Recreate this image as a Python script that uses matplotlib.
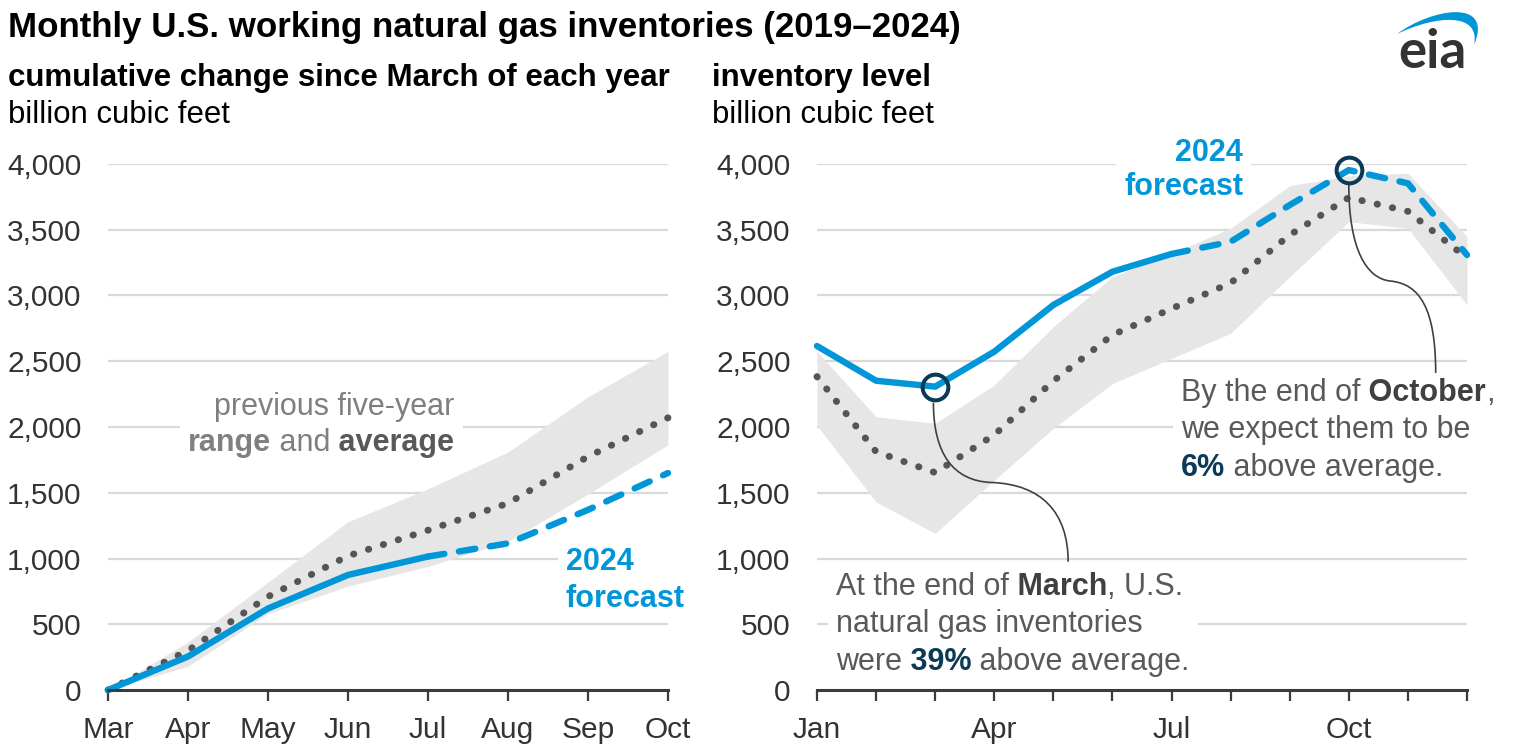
import matplotlib
matplotlib.use("Agg")
import matplotlib.pyplot as plt
import matplotlib.transforms as mtransforms
from matplotlib.offsetbox import TextArea, HPacker, VPacker, AnnotationBbox
from matplotlib.path import Path
from matplotlib.patches import PathPatch

plt.rcParams["font.family"] = ["Liberation Sans", "DejaVu Sans"]

# ---------------- data ----------------
y_ticks = [0, 500, 1000, 1500, 2000, 2500, 3000, 3500, 4000]
y_tick_labels = ["0", "500", "1,000", "1,500", "2,000", "2,500", "3,000", "3,500", "4,000"]

cum_months = ["Mar", "Apr", "May", "Jun", "Jul", "Aug", "Sep", "Oct"]
cum_2024_actual = [0, 255, 620, 875, 1015]            # Mar-Jul
cum_2024_forecast = [1015, 1115, 1370, 1650]          # Jul-Oct
cum_avg = [0, 300, 710, 1020, 1215, 1420, 1775, 2070]
cum_min = [0, 180, 580, 790, 940, 1130, 1490, 1865]
cum_max = [0, 365, 820, 1280, 1530, 1810, 2230, 2575]

inv_months = ["Jan", "Feb", "Mar", "Apr", "May", "Jun", "Jul", "Aug", "Sep", "Oct", "Nov", "Dec"]
inv_tick_labels = ["Jan", "", "", "Apr", "", "", "Jul", "", "", "Oct", "", ""]
inv_2024_actual = [2616, 2352, 2307, 2573, 2928, 3181, 3316]      # Jan-Jul
inv_2024_forecast = [3316, 3409, 3688, 3954, 3853, 3308]          # Jul-Dec
inv_avg = [2383, 1812, 1653, 1940, 2350, 2700, 2900, 3095, 3460, 3745, 3640, 3285]
inv_min = [2010, 1430, 1191, 1595, 1990, 2330, 2522, 2712, 3143, 3561, 3511, 2928]
inv_max = [2575, 2078, 2028, 2319, 2763, 3143, 3320, 3511, 3835, 3910, 3930, 3447]

# ---------------- style ----------------
BLUE = "#0096d7"
NAVY = "#0b3a57"
BAND = "#e6e6e6"
GRID = "#d9d9d9"
AVG = "#555555"
TXT = "#333333"
ANN = "#595959"
FS = 22

W, H = 1521, 753
fig = plt.figure(figsize=(W / 100, H / 100), dpi=100)

def px_axes(x0, x1, y_top, y_bot):
    return fig.add_axes([x0 / W, 1 - y_bot / H, (x1 - x0) / W, (y_bot - y_top) / H])

ax1 = px_axes(108, 668, 164, 690)
ax2 = px_axes(817, 1467, 164, 690)

def style_axes(ax, n, labels):
    ax.set_xlim(0, n - 1)
    ax.set_ylim(0, 4000)
    for s in ["top", "right", "left"]:
        ax.spines[s].set_visible(False)
    ax.spines["bottom"].set_color("#3a3a3a")
    ax.spines["bottom"].set_linewidth(2.2)
    ax.spines["bottom"].set_zorder(6)
    ax.set_xticks(range(n))
    ax.set_xticklabels(labels)
    ax.set_yticks(y_ticks)
    ax.set_yticklabels(y_tick_labels)
    ax.tick_params(axis="x", length=8, width=1.6, color="#3a3a3a", pad=11,
                   labelsize=21.5, labelcolor=TXT, direction="out")
    ax.tick_params(axis="y", length=0, pad=19, labelsize=21.5, labelcolor=TXT)
    for v in y_ticks[1:]:
        ax.axhline(v, color=GRID, lw=1.6, zorder=0)

style_axes(ax1, len(cum_months), cum_months)
style_axes(ax2, len(inv_months), inv_tick_labels)

blue_kw = dict(color=BLUE, lw=4.6, solid_capstyle="round", zorder=4, clip_on=False)
dash_kw = dict(color=BLUE, lw=4.6, dashes=(2.6, 2.3), dash_capstyle="round", zorder=4, clip_on=False)
avg_kw = dict(color=AVG, lw=5.0, dashes=(0.05, 2.2), dash_capstyle="round", zorder=3, clip_on=False)

# left panel
x1 = list(range(len(cum_months)))
ax1.fill_between(x1, cum_min, cum_max, color=BAND, lw=0, zorder=1)
ax1.plot(x1, cum_avg, **avg_kw)
ax1.plot(x1[:len(cum_2024_actual)], cum_2024_actual, **blue_kw)
ax1.plot(x1[len(cum_2024_actual) - 1:], cum_2024_forecast, **dash_kw)

# right panel
x2 = list(range(len(inv_months)))
ax2.fill_between(x2, inv_min, inv_max, color=BAND, lw=0, zorder=1)
ax2.plot(x2, inv_avg, **avg_kw)
ax2.plot(x2[:len(inv_2024_actual)], inv_2024_actual, **blue_kw)
ax2.plot(x2[len(inv_2024_actual) - 1:], inv_2024_forecast, **dash_kw)

inv_2024_all = inv_2024_actual + inv_2024_forecast[1:]
for i in (2, 9):
    ax2.plot([i], [inv_2024_all[i]], marker="o", ms=18.5, mfc="none", mec=NAVY,
             mew=2.9, zorder=7, clip_on=False)

# connectors
def connector(ax, verts):
    codes = [Path.MOVETO] + [Path.CURVE4] * (len(verts) - 1)
    ax.add_patch(PathPatch(Path(verts, codes), fc="none", ec="#404040", lw=1.2,
                           zorder=5, clip_on=False))

connector(ax2, [(1.97, 2185), (1.97, 1800), (2.3, 1590), (2.95, 1578),
                (3.8, 1565), (4.25, 1350), (4.25, 975)])
connector(ax2, [(9.0, 3840), (9.0, 3350), (9.3, 3130), (9.7, 3110),
                (10.2, 3090), (10.47, 2900), (10.47, 2411)])

# mixed-style text blocks
def rich(ax, lines, xy, align, box_alignment, sep=5.5):
    rows = []
    for pieces in lines:
        tas = [TextArea(t, textprops=dict(size=FS, color=c, weight=w)) for t, w, c in pieces]
        rows.append(HPacker(children=tas, align="baseline", pad=0, sep=0))
    pack = VPacker(children=rows, align=align, pad=0, sep=sep)
    ab = AnnotationBbox(pack, xy, xycoords="data", box_alignment=box_alignment,
                        frameon=True, pad=0.6, fontsize=10,
                        bboxprops=dict(fc="white", ec="none"), zorder=2,
                        annotation_clip=False)
    ax.add_artist(ab)

rich(ax1, [[("previous five-year", "normal", "#7f7f7f")],
           [("range", "bold", "#808080"), (" and", "normal", "#7f7f7f"),
            (" average", "bold", "#595959")]],
     (4.33, 2015), "right", (1, 0.5), sep=4.5)

rich(ax2, [[("At the end of", "normal", ANN), (" March", "bold", "#404040"), (", U.S.", "normal", ANN)],
           [("natural gas inventories", "normal", ANN)],
           [("were", "normal", ANN), (" 39%", "bold", NAVY), (" above average.", "normal", ANN)]],
     (0.32, 900), "left", (0, 1))

rich(ax2, [[("By the end of", "normal", ANN), (" October", "bold", "#404040"), (",", "normal", ANN)],
           [("we expect them to be", "normal", ANN)],
           [("6%", "bold", NAVY), (" above average.", "normal", ANN)]],
     (6.16, 2375), "left", (0, 1))

ax1.text(5.725, 1090, "2024\nforecast", ha="left", va="top", fontsize=FS, weight="bold",
         color=BLUE, linespacing=1.3, zorder=2, clip_on=False,
         bbox=dict(fc="white", ec="none", pad=6))
ax2.text(7.21, 4195, "2024\nforecast", ha="right", va="top", fontsize=FS, weight="bold",
         color=BLUE, linespacing=1.17, zorder=2, clip_on=False, multialignment="right",
         bbox=dict(fc="white", ec="none", pad=6))

# titles
def ftext(x, y, s, **kw):
    fig.text(x / W, 1 - y / H, s, va="baseline", ha="left", **kw)

ftext(8, 37, "Monthly U.S. working natural gas inventories (2019\u20132024)",
      fontsize=25.1, weight="bold", color="black")
ftext(8, 86, "cumulative change since March of each year", fontsize=22.5, weight="bold", color="black")
ftext(8, 123, "billion cubic feet", fontsize=22.4, color="black")
ftext(712, 86, "inventory level", fontsize=22.5, weight="bold", color="black")
ftext(712, 123, "billion cubic feet", fontsize=22.4, color="black")

# eia logo
pix = mtransforms.Affine2D().scale(1, -1).translate(0, H)
swoosh = Path([(1397, 34), (1432, 8), (1494, -2), (1474, 45),
               (1481, 12), (1436, 15), (1397, 34), (1397, 34)],
              [Path.MOVETO, Path.CURVE4, Path.CURVE4, Path.CURVE4,
               Path.CURVE4, Path.CURVE4, Path.CURVE4, Path.CLOSEPOLY])
fig.patches.append(PathPatch(swoosh, fc=BLUE, ec="none", transform=pix, figure=fig))
fig.text(1398 / W, 1 - 68 / H, "eia", fontsize=38, family=["Lato", "DejaVu Sans"],
         weight="bold", color="#333333", va="baseline", ha="left")

fig.savefig("out.png", dpi=100)
